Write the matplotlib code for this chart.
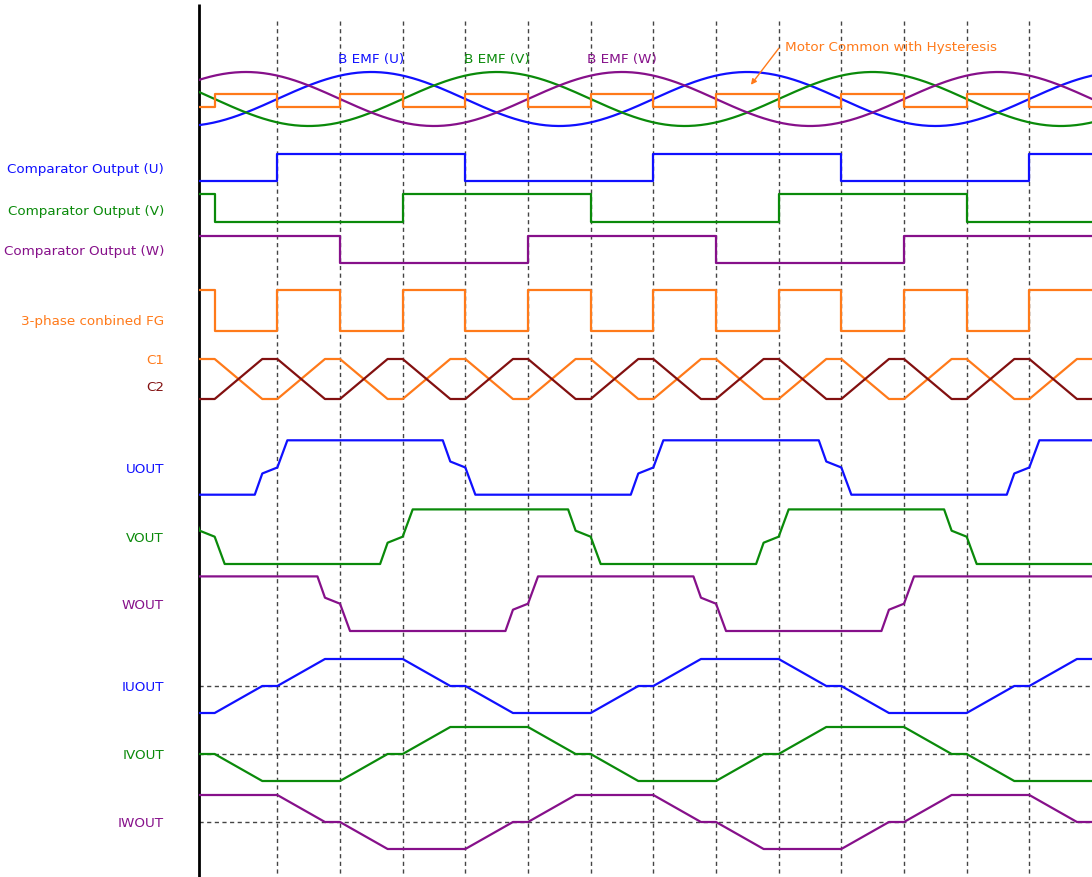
import numpy as np
import matplotlib
matplotlib.use('Agg')
import matplotlib.pyplot as plt

# colours of the traces
BLUE = '#1010ff'
GREEN = '#0a8a0a'
PURPLE = '#86108a'
ORANGE = '#ff7a1a'
DARKRED = '#821010'

# time axis: one unit = one dashed grid step (60 deg electrical)
grid_ticks = list(range(0, 13))

# back EMF: peak time of each phase (units)
bemf_names = ['B EMF (U)', 'B EMF (V)', 'B EMF (W)']
bemf_peaks = [1.5, 3.5, 5.5]
bemf_colors = [BLUE, GREEN, PURPLE]

# motor common with hysteresis (step, where='post')
common_t = [-1.5, -1, 0, 1, 2, 3, 4, 5, 6, 7, 8, 9, 10, 11, 12, 13.5]
common_v = [0, 1, 0, 1, 0, 1, 0, 1, 0, 1, 0, 1, 0, 1, 0, 0]

# comparator outputs
cu_t = [-1.5, 0, 3, 6, 9, 12, 13.5]
cu_v = [0, 1, 0, 1, 0, 1, 1]
cv_t = [-1.5, -1, 2, 5, 8, 11, 13.5]
cv_v = [1, 0, 1, 0, 1, 0, 0]
cw_t = [-1.5, 1, 4, 7, 10, 13.5]
cw_v = [1, 0, 1, 0, 1, 1]

# 3-phase combined FG
fg_t = [-1.5, -1, 0, 1, 2, 3, 4, 5, 6, 7, 8, 9, 10, 11, 12, 13.5]
fg_v = [1, 0, 1, 0, 1, 0, 1, 0, 1, 0, 1, 0, 1, 0, 1, 1]

# trapezoid levels reached after the ramp starting at k = -2 .. 12
c1_lv = [1, -1, 1, -1, 1, -1, 1, -1, 1, -1, 1, -1, 1, -1, 1]
c2_lv = [-1, 1, -1, 1, -1, 1, -1, 1, -1, 1, -1, 1, -1, 1, -1]
iu_lv = [-1, 0, 1, 1, 0, -1, -1, 0, 1, 1, 0, -1, -1, 0, 1]
iv_lv = [0, -1, -1, 0, 1, 1, 0, -1, -1, 0, 1, 1, 0, -1, -1]
iw_lv = [1, 1, 0, -1, -1, 0, 1, 1, 0, -1, -1, 0, 1, 1, 0]

# output voltages: edge centres
uout_rise, uout_fall = [0, 6, 12], [3, 9]
vout_rise, vout_fall = [2, 8], [-1, 5, 11]
wout_rise, wout_fall = [4, 10], [1, 7]
edge_dt = [-0.36, -0.24, 0, 0.16]
rise_v = [-1, -0.22, 0, 1]
fall_v = [1, 0.22, 0, -1]


def trapezoid(levels, k0=-2, ramp=0.76):
    t, v = [-1.5], [levels[0]]
    for i in range(1, len(levels)):
        k = k0 + i
        t += [k, k + ramp]
        v += [levels[i - 1], levels[i]]
    t.append(13.5)
    v.append(levels[-1])
    return np.array(t), np.array(v, dtype=float)


def out_wave(rises, falls, start):
    ev = sorted([(c, rise_v) for c in rises] + [(c, fall_v) for c in falls])
    t, v = [-1.5], [start]
    for c, shape in ev:
        t += [c + d for d in edge_dt]
        v += shape
    t.append(13.5)
    v.append(v[-1])
    return np.array(t), np.array(v, dtype=float)


fig = plt.figure(figsize=(10.92, 8.78), dpi=100)
ax = fig.add_axes([199 / 1092, 0, 1 - 199 / 1092, 1])
ax.set_xlim(-1.25, 13)
ax.set_ylim(878, 0)
ax.axis('off')

lw = 1.6
fs = 9.7

# grid
ax.vlines(grid_ticks, 22, 878, colors='#444444', linestyles=(0, (3, 2.5)), lw=1)
for yc in [687, 755, 823]:
    ax.hlines(yc, -1.25, 13, colors='#444444', linestyles=(0, (3, 2.5)), lw=1)
ax.plot([-1.25, -1.25], [5, 878], color='black', lw=2, clip_on=False, solid_capstyle='butt')

# back EMF
ts = np.linspace(-1.5, 13.5, 600)
for name, pk, col in zip(bemf_names, bemf_peaks, bemf_colors):
    ax.plot(ts, 100 - 27 * np.cos(np.pi * (ts - pk) / 3), color=col, lw=lw)
    ax.text(pk, 60, name, color=col, ha='center', va='center', fontsize=fs)
ax.step(common_t, 108 - 13 * np.array(common_v), where='post', color=ORANGE, lw=lw)
ax.text(8.1, 48, 'Motor Common with Hysteresis', color=ORANGE, ha='left', va='center', fontsize=fs)
ax.annotate('', xy=(7.53, 88), xytext=(8.03, 47),
            arrowprops=dict(arrowstyle='-|>', color=ORANGE, lw=1, mutation_scale=8))

# comparators and FG
ax.step(cu_t, 182 - 27 * np.array(cu_v), where='post', color=BLUE, lw=lw)
ax.step(cv_t, 223 - 28 * np.array(cv_v), where='post', color=GREEN, lw=lw)
ax.step(cw_t, 264 - 27 * np.array(cw_v), where='post', color=PURPLE, lw=lw)
ax.step(fg_t, 332 - 41 * np.array(fg_v), where='post', color=ORANGE, lw=lw)

# C1 / C2
t, v = trapezoid(c1_lv)
ax.plot(t, 380 - 20 * v, color=ORANGE, lw=lw)
t, v = trapezoid(c2_lv)
ax.plot(t, 380 - 20 * v, color=DARKRED, lw=lw)

# output voltages
t, v = out_wave(uout_rise, uout_fall, -1)
ax.plot(t, 468.5 - 27.2 * v, color=BLUE, lw=lw)
t, v = out_wave(vout_rise, vout_fall, 1)
ax.plot(t, 537.7 - 27.3 * v, color=GREEN, lw=lw)
t, v = out_wave(wout_rise, wout_fall, 1)
ax.plot(t, 604.7 - 27.3 * v, color=PURPLE, lw=lw)

# output currents
t, v = trapezoid(iu_lv)
ax.plot(t, 687 - 27 * v, color=BLUE, lw=lw)
t, v = trapezoid(iv_lv)
ax.plot(t, 755 - 27 * v, color=GREEN, lw=lw)
t, v = trapezoid(iw_lv)
ax.plot(t, 823 - 27 * v, color=PURPLE, lw=lw)

# left labels
labels = [
    ('Comparator Output (U)', 170, BLUE),
    ('Comparator Output (V)', 211, GREEN),
    ('Comparator Output (W)', 252, PURPLE),
    ('3-phase conbined FG', 321, ORANGE),
    ('C1', 361, ORANGE),
    ('C2', 388, DARKRED),
    ('UOUT', 470, BLUE),
    ('VOUT', 538, GREEN),
    ('WOUT', 606, PURPLE),
    ('IUOUT', 688, BLUE),
    ('IVOUT', 756, GREEN),
    ('IWOUT', 824, PURPLE),
]
for txt, y, col in labels:
    fig.text(164 / 1092, 1 - y / 878, txt, color=col, ha='right', va='center', fontsize=fs)

fig.savefig('out.png', dpi=100)
